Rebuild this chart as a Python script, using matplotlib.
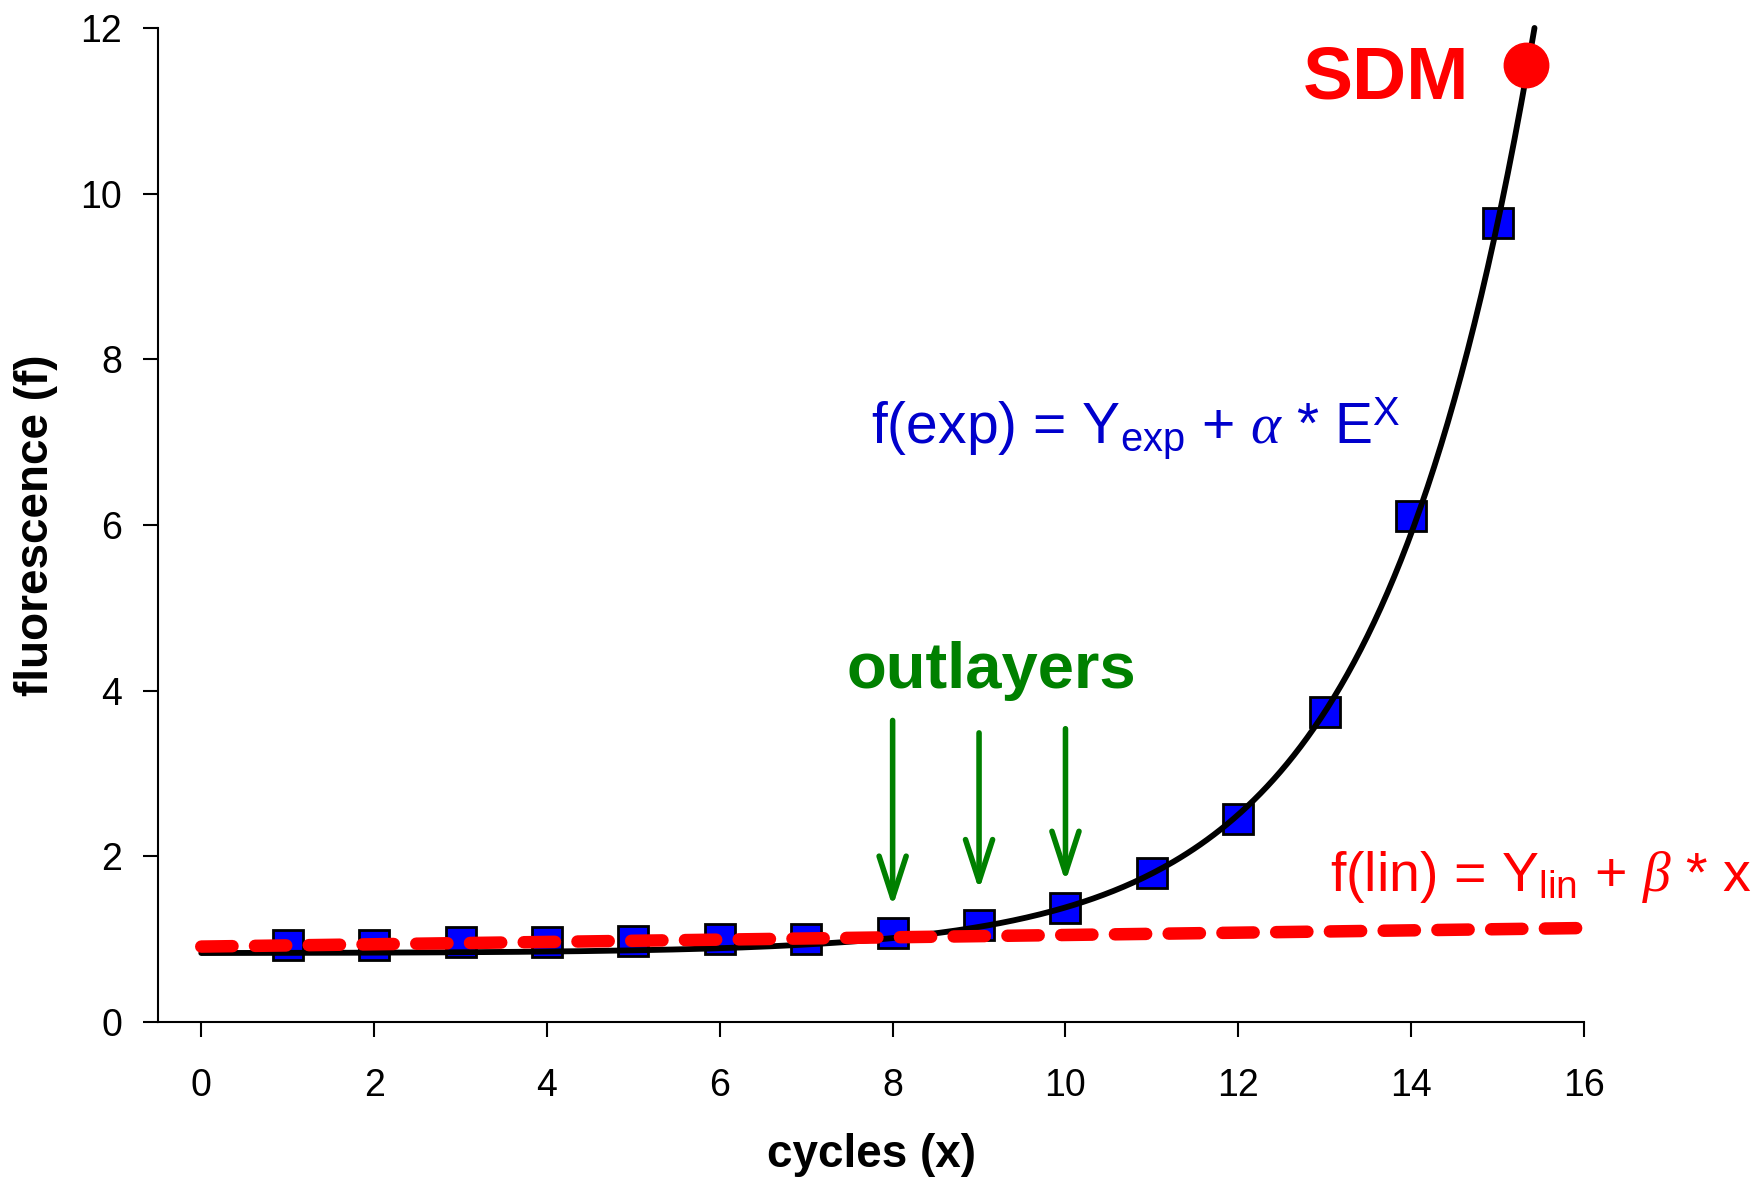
import numpy as np
import matplotlib
matplotlib.use('Agg')
import matplotlib.pyplot as plt

# measured fluorescence per cycle
cycles = [1, 2, 3, 4, 5, 6, 7, 8, 9, 10, 11, 12, 13, 14, 15]
fluor = [0.93, 0.93, 0.96, 0.96, 0.98, 1.00, 1.00, 1.07, 1.17, 1.38, 1.80, 2.45, 3.74, 6.11, 9.65]

# exponential fit f = Y_exp + alpha * E^x
Y_exp = 0.83
alpha = 0.002173
E = 1.74

# linear fit of the baseline f = Y_lin + beta * x
Y_lin = 0.91
beta = 0.014
lin_x = [0, 16]

# second derivative maximum
sdm_x = 15.33
sdm_y = 11.55

# arrows pointing at the outlayers
arrow_x = [8, 9, 10]
arrow_top = [3.64, 3.49, 3.54]
arrow_tip = [1.39, 1.59, 1.69]

plt.rcParams['font.family'] = ['Liberation Sans', 'DejaVu Sans']
plt.rcParams['mathtext.fontset'] = 'custom'
plt.rcParams['mathtext.rm'] = 'Liberation Sans'
plt.rcParams['mathtext.it'] = 'Liberation Serif:italic'
plt.rcParams['mathtext.bf'] = 'Liberation Sans:bold'

fig = plt.figure(figsize=(17.6, 11.79), dpi=100)
ax = fig.add_axes([0.0898, 0.1332, 0.8102, 0.8431])

ax.plot(cycles, fluor, 's', ms=21.5, mfc='#0000FF', mec='black', mew=2, zorder=2)

x_end = np.log((12 - Y_exp) / alpha) / np.log(E)
xs = np.linspace(0, x_end, 400)
ax.plot(xs, Y_exp + alpha * E ** xs, color='black', lw=4.2, zorder=3,
        solid_capstyle='round', clip_on=False)

lin_y = [Y_lin + beta * x for x in lin_x]
ax.plot(lin_x, lin_y, color='#FF0000', lw=9, dashes=(2.5, 1.8),
        dash_capstyle='round', zorder=4)

ax.plot([sdm_x], [sdm_y], 'o', ms=32, color='#FF0000', zorder=6, clip_on=False)

for x, y0, y1 in zip(arrow_x, arrow_top, arrow_tip):
    ax.annotate('', xy=(x, y1), xytext=(x, y0),
                arrowprops=dict(arrowstyle='->,head_length=0.4,head_width=0.13',
                                mutation_scale=75, color='#008000', lw=4,
                                shrinkA=0, shrinkB=0, capstyle='round',
                                joinstyle='round'),
                zorder=5)

ax.text(14.67, 11.15, 'SDM', color='#FF0000', fontsize=54, fontweight='bold',
        ha='right', va='baseline')
ax.text(7.465, 4.03, 'outlayers', color='#008000', fontsize=47, fontweight='bold',
        ha='left', va='baseline')
ax.text(7.755, 6.99, r'f(exp) = Y$_{\mathrm{exp}}$ + $\alpha$ * E$^{\mathrm{X}}$',
        color='#0000CC', fontsize=41, ha='left', va='baseline')
ax.text(13.06, 1.58, r'f(lin) = Y$_{\mathrm{lin}}$ + $\beta$ * x',
        color='#FF0000', fontsize=40, ha='left', va='baseline')

ax.set_xlim(-0.5, 16)
ax.set_ylim(0, 12)
ax.set_xticks(range(0, 17, 2))
ax.set_yticks(range(0, 13, 2))
ax.spines['top'].set_visible(False)
ax.spines['right'].set_visible(False)
ax.spines['left'].set_linewidth(1.5)
ax.spines['bottom'].set_linewidth(1.5)
ax.tick_params(axis='both', length=11, width=1.5, labelsize=27)
ax.tick_params(axis='x', pad=22)
ax.tick_params(axis='y', pad=15)

ax.set_xlabel('cycles (x)', fontsize=33, fontweight='bold')
ax.set_ylabel('fluorescence (f)', fontsize=33, fontweight='bold')
ax.xaxis.set_label_coords(0.5, -0.112)
ax.yaxis.set_label_coords(-0.0701, 0.5)

plt.savefig('out.png', dpi=100)
